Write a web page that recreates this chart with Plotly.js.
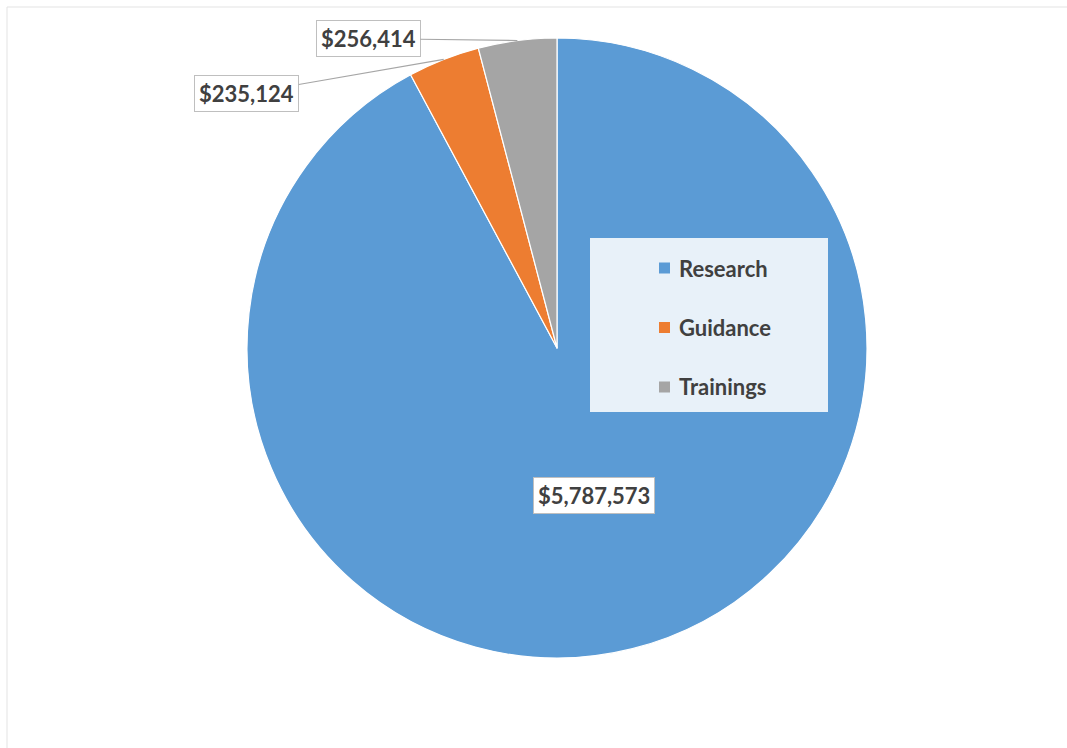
<!DOCTYPE html>
<html><head><meta charset="utf-8">
<script src="https://cdn.plot.ly/plotly-3.0.1.min.js"></script>
<style>html,body{margin:0;padding:0;background:#fff}#chart{width:1067px;height:748px}</style>
</head><body><div id="chart"></div>
<script>
// ---- data ----
const categories = ['Research', 'Guidance', 'Trainings'];
const values = [5787573, 235124, 256414];
const colors = ['#5b9bd5', '#ed7d31', '#a5a5a5'];

// ---- geometry / style ----
const W = 1067, H = 748, CX = 557, CY = 348, R = 310;
const px = x => x / W, py = y => 1 - y / H;
const total = values.reduce((a, b) => a + b, 0);
let cum = 0;
const mids = values.map(v => { const m = (cum + v / 2) / total * 2 * Math.PI; cum += v; return m; });
const fmt = v => '$' + v.toLocaleString('en-US');
const textColor = '#404040';
const labelFont = {family: 'Lato, "Open Sans", sans-serif', size: 22, color: textColor, weight: 'bold'};

// label placement: inside (radius fraction) or outside with leader offsets (px)
const labelPlace = [
  {inside: true, frac: 0.49},
  {inside: false, ax: -197, ay: 34},
  {inside: false, ax: -149, ay: -2}
];

const annotations = values.map((v, i) => {
  const a = mids[i], p = labelPlace[i];
  const rr = p.inside ? R * p.frac : R;
  const x = CX + rr * Math.sin(a), y = CY - rr * Math.cos(a);
  const ann = {
    xref: 'paper', yref: 'paper', x: px(x), y: py(y),
    text: fmt(v), font: labelFont,
    bgcolor: '#ffffff', bordercolor: '#bfbfbf', borderwidth: 1, borderpad: 4,
    xanchor: 'center', yanchor: 'middle'
  };
  if (p.inside) { ann.showarrow = false; }
  else {
    ann.showarrow = true; ann.arrowhead = 0; ann.arrowwidth = 1.2;
    ann.arrowcolor = '#a6a6a6'; ann.ax = p.ax; ann.ay = p.ay; ann.standoff = 0;
  }
  return ann;
});

// custom legend
const LG = {x0: 590, y0: 238, x1: 828, y1: 412, sqX: 659, sq: 11, textX: 677, row0: 268, gap: 59.5};
const shapes = [
  {type: 'line', xref: 'paper', yref: 'paper', x0: px(7), x1: px(W), y0: py(7), y1: py(7), line: {color: '#e3e3e3', width: 1}},
  {type: 'line', xref: 'paper', yref: 'paper', x0: px(7), x1: px(7), y0: py(7), y1: py(H), line: {color: '#e3e3e3', width: 1}},
  {type: 'rect', xref: 'paper', yref: 'paper', x0: px(LG.x0), x1: px(LG.x1), y0: py(LG.y0), y1: py(LG.y1),
   fillcolor: 'rgba(255,255,255,0.86)', line: {width: 0}}
];
categories.forEach((c, i) => {
  const yc = LG.row0 + i * LG.gap;
  shapes.push({type: 'rect', xref: 'paper', yref: 'paper',
    x0: px(LG.sqX), x1: px(LG.sqX + LG.sq), y0: py(yc - LG.sq / 2), y1: py(yc + LG.sq / 2),
    fillcolor: colors[i], line: {width: 0}});
  annotations.push({xref: 'paper', yref: 'paper', x: px(LG.textX), y: py(yc), xanchor: 'left', yanchor: 'middle',
    showarrow: false, text: c, font: {family: 'Lato, "Open Sans", sans-serif', size: 22, color: textColor, weight: 'bold'}});
});

const trace = {
  type: 'pie', labels: categories, values: values,
  marker: {colors: colors, line: {color: '#ffffff', width: 1.2}},
  sort: false, direction: 'clockwise', rotation: 0,
  textinfo: 'none', hoverinfo: 'label+value',
  domain: {x: [px(CX - R), px(CX + R)], y: [py(CY + R), py(CY - R)]}
};

Plotly.newPlot('chart', [trace], {
  width: W, height: H, margin: {l: 0, r: 0, t: 0, b: 0},
  paper_bgcolor: '#ffffff', showlegend: false,
  shapes: shapes, annotations: annotations
}, {displayModeBar: false, staticPlot: true});
</script>
</body></html>
